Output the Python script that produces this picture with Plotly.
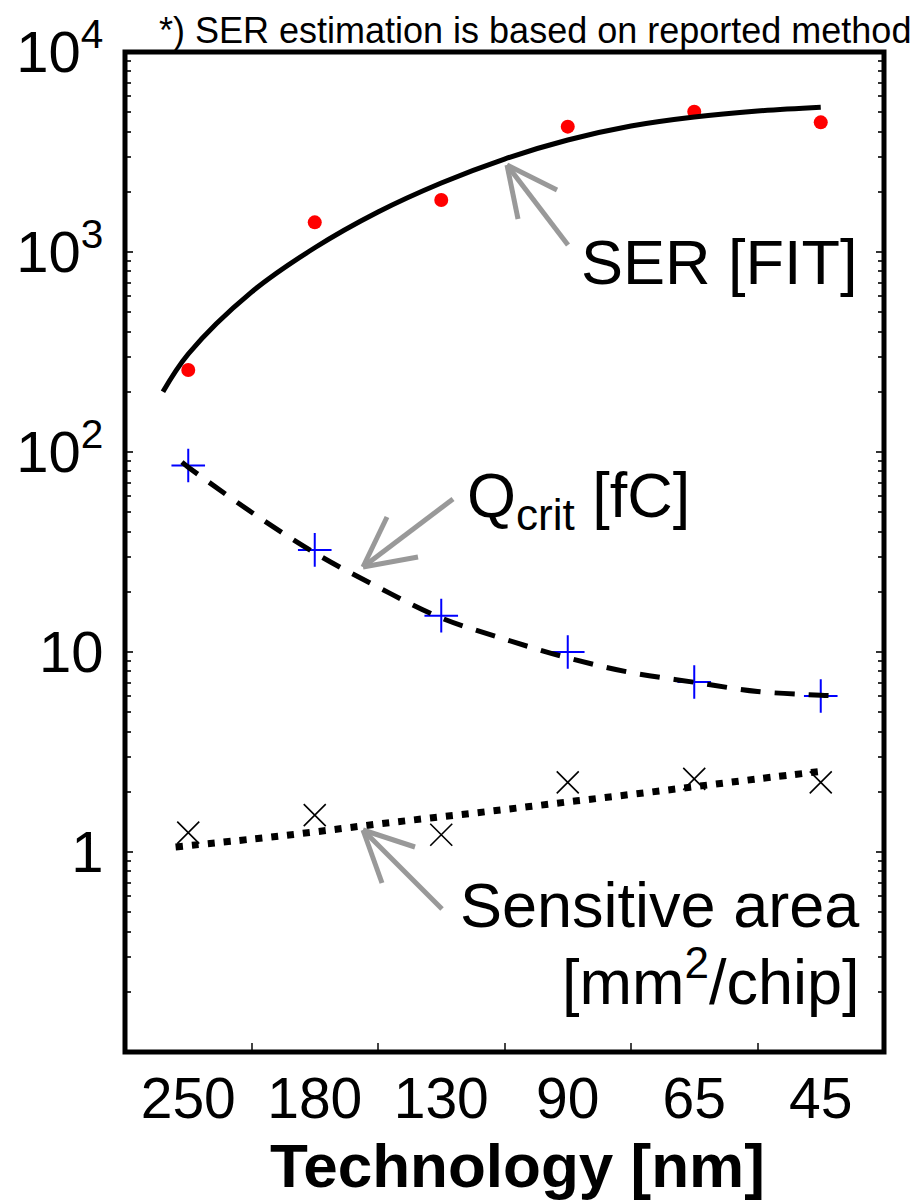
import plotly.graph_objects as go

# ---------------- data ----------------
tech_labels = ["250", "180", "130", "90", "65", "45"]
tech_idx = list(range(len(tech_labels)))

ser_points = [257, 1407, 1820, 4235, 5030, 4450]          # SER [FIT] (red dots)
qcrit_points = [85.6, 32.4, 15.2, 10.0, 7.08, 6.03]       # Qcrit [fC] (blue +)
area_points = [1.25, 1.53, 1.22, 2.23, 2.32, 2.23]        # sensitive area (black x)

ser_fit_x = [-0.2, 0, 0.5, 1, 1.5, 2, 2.5, 3, 3.5, 4, 4.5, 5]
ser_fit_y = [200, 309, 630, 1050, 1585, 2213, 2917, 3631, 4266, 4732, 5070, 5297]

qcrit_fit_x = [-0.05, 0, 0.5, 1, 1.5, 2, 2.5, 3, 3.5, 4, 4.5, 5, 5.14]
qcrit_fit_y = [89, 84, 50, 31.3, 21.1, 14.8, 11.6, 9.35, 7.89, 7.06, 6.35, 6.08, 6.03]

area_fit_x = [-0.1, 0.5, 1, 1.5, 2, 2.5, 3, 3.5, 4, 4.5, 5.05]
area_fit_y = [1.06, 1.16, 1.26, 1.38, 1.50, 1.63, 1.78, 1.94, 2.12, 2.32, 2.55]

y_tickvals = [1, 10, 100, 1000, 10000]
y_ticktext = ["1", "10", "10<sup>2</sup>", "10<sup>3</sup>", "10<sup>4</sup>"]

# ---------------- layout geometry (page pixels) ----------------
BODY = 8                       # default body margin of the html page
W, H = 924 - BODY, 1201 - BODY
L, R, T, B = 125, 884, 52, 1052
FONT = "Liberation Sans, Arial, sans-serif"


def pxx(x):
    return (x - L) / (R - L)


def pxy(y):
    return (B - y) / (B - T)


fig = go.Figure()

# markers first (lines drawn on top)
fig.add_trace(go.Scatter(x=tech_idx, y=ser_points, mode="markers",
                         marker=dict(symbol="circle", size=14, color="#ff0000")))
fig.add_trace(go.Scatter(x=tech_idx, y=qcrit_points, mode="markers",
                         marker=dict(symbol="cross-thin", size=24,
                                     line=dict(color="#0000ff", width=2))))
fig.add_trace(go.Scatter(x=tech_idx, y=area_points, mode="markers",
                         marker=dict(symbol="x-thin", size=22,
                                     line=dict(color="black", width=1.6))))

# fitted trend lines
fig.add_trace(go.Scatter(x=ser_fit_x, y=ser_fit_y, mode="lines",
                         line=dict(color="black", width=5, shape="spline")))
fig.add_trace(go.Scatter(x=qcrit_fit_x, y=qcrit_fit_y, mode="lines",
                         line=dict(color="black", width=5, shape="spline",
                                   dash="20px,14px")))
fig.add_trace(go.Scatter(x=area_fit_x, y=area_fit_y, mode="lines",
                         line=dict(color="black", width=7, shape="spline",
                                   dash="7px,9px")))

shapes = [dict(type="rect", xref="paper", yref="paper", x0=0, y0=0, x1=1, y1=1,
               line=dict(color="black", width=5), layer="above")]

arrows = [
    ((568, 245), (507, 165), (518, 219), (557, 190)),
    ((453, 499), (363, 567), (387, 517), (418, 557)),
    ((442, 909), (363, 830), (382, 883), (415, 847)),
]
for tail, head, w1, w2 in arrows:
    for a, b in ((tail, head), (w1, head), (w2, head)):
        shapes.append(dict(type="line", xref="paper", yref="paper",
                           x0=pxx(a[0]), y0=pxy(a[1]), x1=pxx(b[0]), y1=pxy(b[1]),
                           line=dict(color="#999999", width=5), layer="above"))

annotations = [
    dict(text="*) SER estimation is based on reported method", xref="paper", yref="paper",
         x=pxx(913), y=pxy(BODY), xanchor="right", yanchor="top", showarrow=False,
         font=dict(size=36, family=FONT, color="black")),
    dict(text="SER [FIT]", xref="paper", yref="paper",
         x=pxx(860), y=pxy(262), xanchor="right", yanchor="middle", showarrow=False,
         font=dict(size=63, family=FONT, color="black")),
    dict(text="Q<sub>crit</sub> [fC]", xref="paper", yref="paper",
         x=pxx(465), y=pxy(500), xanchor="left", yanchor="middle", showarrow=False,
         font=dict(size=63, family=FONT, color="black")),
    dict(text="Sensitive area", xref="paper", yref="paper",
         x=pxx(862), y=pxy(905), xanchor="right", yanchor="middle", showarrow=False,
         font=dict(size=63, family=FONT, color="black")),
    dict(text="[mm<sup>2</sup>/chip]", xref="paper", yref="paper",
         x=pxx(862), y=pxy(977), xanchor="right", yanchor="middle", showarrow=False,
         font=dict(size=63, family=FONT, color="black")),
    dict(text="<b>Technology [nm]</b>", xref="paper", yref="paper",
         x=pxx(517), y=pxy(1165), xanchor="center", yanchor="middle", showarrow=False,
         font=dict(size=62, family=FONT, color="black")),
]

minor_y = [m * 10.0 ** e for e in range(-1, 4) for m in range(2, 10)]

fig.update_layout(
    width=W, height=H,
    margin=dict(l=L - BODY, r=(W + BODY) - R, t=T - BODY, b=(H + BODY) - B, pad=0,
                autoexpand=False),
    paper_bgcolor="white", plot_bgcolor="white",
    showlegend=False,
    font=dict(family=FONT, color="black"),
    shapes=shapes,
    annotations=annotations,
    xaxis=dict(
        range=[-0.5, 5.5], tickmode="array", tickvals=tech_idx, ticktext=tech_labels,
        ticks="", showgrid=False, zeroline=False, showline=True, linecolor="black",
        linewidth=1, mirror=False, automargin=False, ticklabelstandoff=-3,
        tickfont=dict(size=57, family=FONT, color="black"),
        minor=dict(tickmode="array", tickvals=[i + 0.5 for i in tech_idx[:-1]],
                   ticks="inside", ticklen=9, tickwidth=1.5, tickcolor="#444444",
                   showgrid=False),
    ),
    yaxis=dict(
        type="log", range=[-1, 4], tickmode="array", tickvals=y_tickvals,
        ticktext=y_ticktext, ticks="inside", ticklen=8, tickwidth=1.5,
        tickcolor="#333333", showgrid=False, zeroline=False, showline=True,
        linecolor="black", linewidth=1, mirror="allticks", automargin=False,
        ticklabelstandoff=9,
        tickfont=dict(size=58, family=FONT, color="black"),
        minor=dict(tickmode="array", tickvals=minor_y, ticks="inside", ticklen=6,
                   tickwidth=1.5, tickcolor="#333333", showgrid=False),
    ),
)

fig.write_html("out.html")
